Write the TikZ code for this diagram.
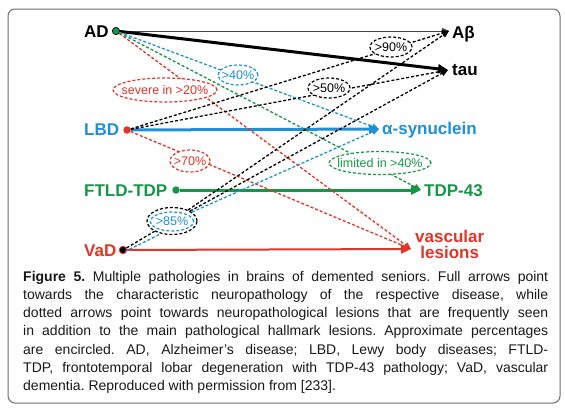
\documentclass[tikz,border=0pt]{standalone}
\usepackage{fontspec}
\setmainfont{Liberation Sans}
\usetikzlibrary{arrows.meta,shapes.geometric}
\definecolor{cblue}{RGB}{30,144,215}
\definecolor{cgreen}{RGB}{22,150,72}
\definecolor{cred}{RGB}{228,52,38}
\definecolor{cframe}{RGB}{110,110,110}
\frenchspacing
\begin{document}
\begin{tikzpicture}[x=1pt,y=-1pt,
  lab/.style={font=\fontsize{17}{15}\selectfont\bfseries, inner sep=0pt},
  dot/.style={circle, inner sep=0pt, minimum size=7.5pt},
  pct/.style={ellipse, fill=white, inner sep=0pt, line width=1.2pt, dash pattern=on 3pt off 2pt},
  pcttext/.style={inner sep=0pt, font=\fontsize{12.5}{14}\selectfont},
  dsh/.style={line width=1.3pt, dash pattern=on 3pt off 2pt, -{Triangle[length=7pt,width=6pt]}},
  dshplain/.style={line width=1.3pt, dash pattern=on 3pt off 2pt},
  sol/.style={line width=3pt, -{Triangle[length=10pt,width=9pt]}},
]
\useasboundingbox (0,0) rectangle (565,413);
\fill[white] (0,0) rectangle (565,413);
\draw[cframe, line width=1pt, rounded corners=7pt] (8,9) rectangle (560,403);

% labels
\node[lab, anchor=base west] (adl) at (84,37) {AD};
\node[lab, text=cblue, anchor=base west] (lbdl) at (84,135) {LBD};
\node[lab, text=cgreen, anchor=base west] (ftldl) at (84,196) {FTLD-TDP};
\node[lab, text=cred, anchor=base west] (vadl) at (84,256) {VaD};
\node[lab, anchor=base west] (ab) at (452,38) {Aβ};
\node[lab, anchor=base west] (tau) at (452,75) {tau};
\node[lab, text=cblue, anchor=base west] (asyn) at (382,134) {α-synuclein};
\node[lab, text=cgreen, anchor=base west] (tdp) at (424,196) {TDP-43};
\node[lab, text=cred, anchor=base west] (vasc1) at (415,242) {vascular};
\node[lab, text=cred, anchor=base] (vasc2) at (vasc1.base |- 0,258) {lesions};

% dots
\node[dot, fill=cgreen, draw=black, line width=0.6pt] (ad) at (116,31) {};
\node[dot, fill=cred] (lbd) at (127,130) {};
\node[dot, fill=cgreen] (ftld) at (176,190) {};
\node[dot, fill=black, draw=cred, line width=0.8pt] (vad) at (123,250) {};

% arrow tips
\coordinate (abtip) at (449,31);
\coordinate (tautip) at (448,70);
\coordinate (asyntip) at (379,129);
\coordinate (tdptip) at (421,190);
\coordinate (vtip) at (411,249);

% solid arrows
\draw[line width=0.8pt, black!75, -{Triangle[length=7pt,width=6pt]}] (ad) -- (abtip);
\draw[sol, black] (ad) -- (tautip);
\draw[sol, cblue] (lbd) -- (asyntip);
\draw[sol, cgreen] (ftld) -- (tdptip);
\draw[sol, cred, line width=2pt] (vad) -- (vtip);

% dashed straight arrows
\draw[dsh, cblue] (ad) -- (asyntip);
\draw[dsh, cgreen] (ad) -- (tdptip);
\draw[dsh, cred] (ad) -- (vtip);
\draw[dsh, black] (lbd) -- (abtip);
\draw[dsh, black] (lbd) -- (tautip);
\draw[dsh, cred] (lbd) -- (vtip);

% percentage ellipses
\node[pct, draw=cblue, minimum width=40pt, minimum height=20pt] (e40) at (238,75) {};
\node[pcttext, text=cblue] (t40) at (e40) {>40\%};
\node[pct, draw=cred, minimum width=104pt, minimum height=24pt] (e20) at (165,90) {};
\node[pcttext, text=cred] (t20) at (e20) {severe in >20\%};
\node[pct, draw=black, minimum width=42pt, minimum height=20pt] (e90) at (391,47) {};
\node[pcttext, text=black] (t90) at (e90) {>90\%};
\node[pct, draw=black, minimum width=42pt, minimum height=20pt] (e50) at (329,88) {};
\node[pcttext, text=black] (t50) at (e50) {>50\%};
\node[pct, draw=cred, minimum width=40pt, minimum height=22pt] (e70) at (190,161) {};
\node[pcttext, text=cred] (t70) at (e70) {>70\%};
\node[pct, draw=cgreen, minimum width=102pt, minimum height=23pt] (elim) at (380,163) {};
\node[pcttext, text=cgreen] (tlim) at (elim) {limited in >40\%};
\node[pct, draw=black, minimum width=50pt, minimum height=27pt] (e85) at (172,221) {};
\node[pct, draw=cblue, minimum width=43pt, minimum height=19pt] (e85b) at (172,221.5) {};
\node[pcttext, text=cblue] (t85) at (e85b) {>85\%};

% VaD group
\draw[dshplain, black] (vad) -- (e85);
\draw[dshplain, cblue] ([shift={(2,1.5)}]vad.center) -- ([shift={(2,1.5)}]e85.220);
\draw[dsh, black] (e85) -- (abtip);
\draw[dsh, black] (e85) -- (tautip);
\draw[dsh, cblue] (e85) -- (asyntip);

% caption
\node[anchor=north west, inner sep=0pt, text width=525pt, align=justify,
  font=\fontsize{14}{18.2}\selectfont, text=black!90] (cap) at (23,271)
{\textbf{Figure 5.} Multiple pathologies in brains of demented seniors. Full arrows point\linebreak
towards the characteristic neuropathology of the respective disease, while\linebreak
dotted arrows point towards neuropathological lesions that are frequently seen\linebreak
in addition to the main pathological hallmark lesions. Approximate percentages\linebreak
are encircled. AD, Alzheimer’s disease; LBD, Lewy body diseases; FTLD-\linebreak
TDP, frontotemporal lobar degeneration with TDP-43 pathology; VaD, vascular\linebreak
dementia. Reproduced with permission from [233].};
\end{tikzpicture}
\end{document}
